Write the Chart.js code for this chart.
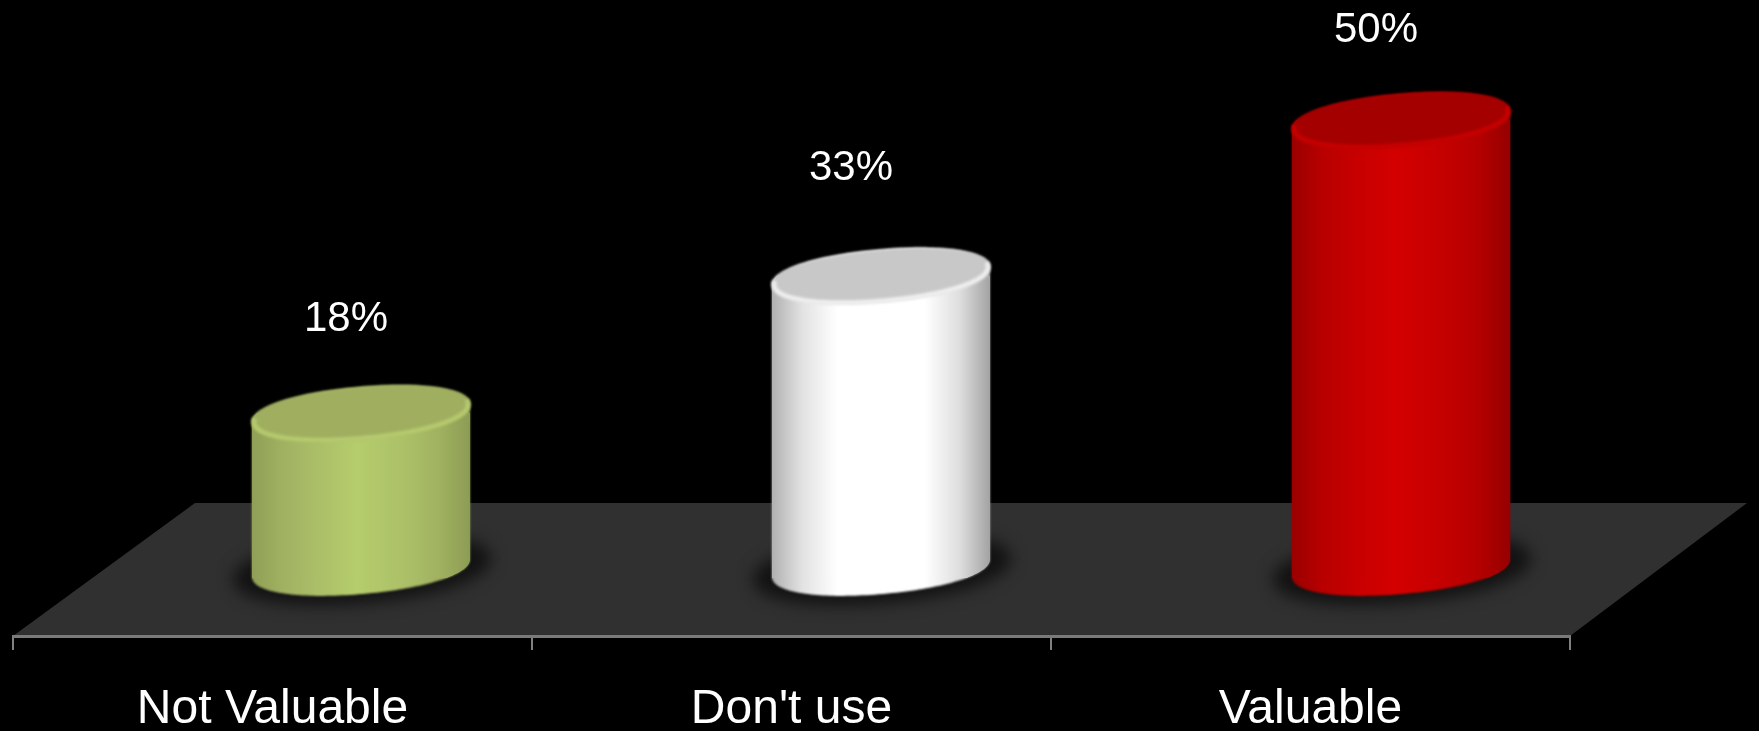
<!DOCTYPE html>
<html>
<head>
<meta charset="utf-8">
<style>html,body{margin:0;padding:0;background:#000;overflow:hidden}canvas{display:block}</style>
<script src="https://cdn.jsdelivr.net/npm/chart.js@4"></script>
</head>
<body>
<canvas id="c" width="1759" height="731"></canvas>
<script>
const categories = ["Not Valuable", "Don't use", "Valuable"];
const values = [18, 33, 50];
const sideStops = [
  ["#8f9f56", "#a0b162", "#abbe68", "#b5cd6c", "#acc068", "#a0b160", "#8d9c54"],
  ["#b0b0b0", "#e2e2e2", "#ffffff", "#ffffff", "#ffffff", "#dedede", "#a2a2a2"],
  ["#9a0000", "#b80000", "#c80000", "#d40000", "#c40000", "#b40000", "#960000"]
];
const stopAt = [0, 0.14, 0.3, 0.48, 0.7, 0.86, 1];
const capFill = ["#a0ae60", "#c8c8c8", "#a40000"];
const capRim = ["#b6cb6e", "#f0f0f0", "#c80000"];
const labelShiftX = [-15, -30, -25];
const labelShiftY = [-94, -107, -90];

const RX = 109.4, RY = 26, TILT = -5 * Math.PI / 180, FOOT = 10, ROUNDNESS = 2.12;

function sideGradient(ctx, cx, i) {
  const g = ctx.createLinearGradient(cx - RX, 0, cx + RX, 0);
  sideStops[i].forEach((c, k) => g.addColorStop(stopAt[k], c));
  return g;
}

function barFill(c) {
  const px = c.chart.scales.x2 ? c.chart.scales.x2.getPixelForValue(c.dataIndex) : NaN;
  if (!Number.isFinite(px)) return sideStops[c.dataIndex === undefined ? 0 : c.dataIndex][3];
  return sideGradient(c.chart.ctx, px, c.dataIndex);
}

function rimPoint(cx, cy, rx, ry, t) {
  const c = Math.cos(t), s = Math.sin(t);
  const ex = rx * Math.sign(c) * Math.pow(Math.abs(c), 2 / ROUNDNESS);
  const ey = ry * Math.sign(s) * Math.pow(Math.abs(s), 2 / ROUNDNESS);
  return [cx + ex * Math.cos(TILT) - ey * Math.sin(TILT), cy + ex * Math.sin(TILT) + ey * Math.cos(TILT)];
}

function rimArc(ctx, cx, cy, rx, ry, from, to, start) {
  const steps = 90;
  for (let k = 0; k <= steps; k++) {
    const p = rimPoint(cx, cy, rx, ry, from + (to - from) * k / steps);
    if (k === 0 && start) ctx.moveTo(p[0], p[1]); else ctx.lineTo(p[0], p[1]);
  }
}

function silhouette(ctx, b) {
  rimArc(ctx, b.x, b.y, RX, RY, Math.PI, Math.PI * 2, true);
  rimArc(ctx, b.x, b.base - FOOT, RX, RY, 0, Math.PI, false);
  ctx.closePath();
}

const cylinderPlugin = {
  id: 'cylinder',
  beforeDraw(chart) {
    const ctx = chart.ctx, a = chart.chartArea;
    ctx.save();
    ctx.fillStyle = '#000';
    ctx.fillRect(0, 0, chart.width, chart.height);
    ctx.fillStyle = '#303030';
    ctx.beginPath();
    ctx.moveTo(a.left, a.bottom);
    ctx.lineTo(a.left + 182, a.bottom - 133);
    ctx.lineTo(a.right + 177, a.bottom - 133);
    ctx.lineTo(a.right, a.bottom);
    ctx.closePath();
    ctx.fill();
    ctx.restore();
  },
  beforeDatasetDraw(chart, args) {
    const ctx = chart.ctx, bars = chart.getDatasetMeta(args.index).data;
    bars.forEach(b => {
      ctx.save();
      ctx.filter = 'blur(8px)';
      ctx.fillStyle = '#121212';
      ctx.beginPath();
      rimArc(ctx, b.x + 1, b.base - FOOT + 1, RX + 20, RY + 8, 0, Math.PI * 2, true);
      ctx.fill();
      ctx.restore();
    });
    bars.forEach((b, i) => {
      ctx.save();
      ctx.filter = 'blur(0.8px)';
      ctx.fillStyle = sideGradient(ctx, b.x, i);
      ctx.beginPath();
      silhouette(ctx, b);
      ctx.fill();
      ctx.restore();
    });
    ctx.save();
    ctx.beginPath();
    bars.forEach(b => silhouette(ctx, b));
    ctx.clip();
  },
  afterDatasetDraw(chart, args) {
    const ctx = chart.ctx, bars = chart.getDatasetMeta(args.index).data;
    ctx.restore();
    bars.forEach((b, i) => {
      ctx.save();
      ctx.filter = 'blur(1.5px)';
      ctx.fillStyle = capFill[i];
      ctx.beginPath();
      rimArc(ctx, b.x, b.y, RX, RY, 0, Math.PI * 2, true);
      ctx.closePath();
      ctx.fill();
      ctx.strokeStyle = capRim[i];
      ctx.lineWidth = 4.5;
      ctx.beginPath();
      rimArc(ctx, b.x, b.y, RX - 2, RY - 1, -0.15, Math.PI + 0.15, true);
      ctx.stroke();
      ctx.restore();
    });
  },
  afterDatasetsDraw(chart) {
    const ctx = chart.ctx, bars = chart.getDatasetMeta(0).data;
    ctx.save();
    ctx.fillStyle = '#fff';
    ctx.font = '42px "Liberation Sans", Arial, sans-serif';
    ctx.textAlign = 'center';
    ctx.textBaseline = 'middle';
    bars.forEach((b, i) => {
      ctx.fillText(values[i] + '%', b.x + labelShiftX[i], b.y + labelShiftY[i]);
    });
    ctx.restore();
  }
};

new Chart(document.getElementById('c'), {
  type: 'bar',
  data: {
    labels: categories,
    datasets: [{
      data: values.map((v, i) => ({ x: i, y: v })),
      xAxisID: 'x2',
      yAxisID: 'y',
      barThickness: 219,
      borderWidth: 0,
      backgroundColor: barFill
    }]
  },
  plugins: [cylinderPlugin],
  options: {
    responsive: false,
    animation: false,
    devicePixelRatio: 1,
    layout: { padding: { left: 13, right: 189, top: 0, bottom: 0 } },
    plugins: { legend: { display: false }, tooltip: { enabled: false }, title: { display: false } },
    scales: {
      x: {
        type: 'category',
        offset: true,
        afterFit: s => { s.height = 95; },
        grid: { offset: true, drawOnChartArea: false, drawTicks: true, tickLength: 14, color: '#808080', lineWidth: 2 },
        border: { display: true, color: '#7a7a7a', width: 3 },
        ticks: { color: '#fff', padding: 31, maxRotation: 0, autoSkip: false, font: { family: '"Liberation Sans", Arial, sans-serif', size: 48 } }
      },
      x2: { type: 'linear', display: false, offset: false, grid: { offset: false }, min: -0.6692, max: 2.325 },
      y: { type: 'linear', display: false, min: -6.33, max: 63.1 }
    }
  }
});
</script>
</body>
</html>
